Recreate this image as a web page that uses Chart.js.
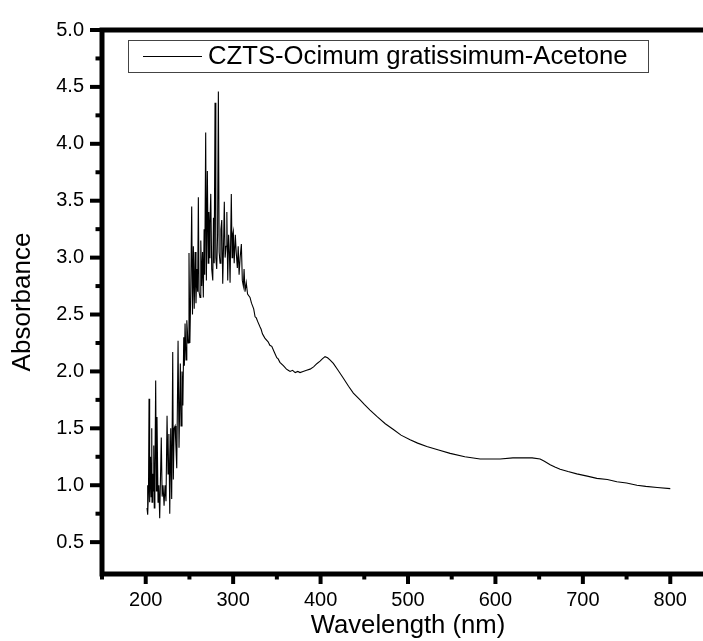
<!DOCTYPE html>
<html>
<head>
<meta charset="utf-8">
<script src="https://cdn.jsdelivr.net/npm/chart.js@4"></script>
<style>
  html, body { margin: 0; padding: 0; background: #fff; overflow: hidden; }
  #wrap { width: 730px; height: 641px; }
</style>
</head>
<body>
<div id="wrap"><canvas id="absChart"></canvas></div>
<script>
// Data ------------------------------------------
const seriesLabel = 'CZTS-Ocimum gratissimum-Acetone';

const wavelength = [
    201.5, 202, 202.5, 203.2, 203.8, 204.5, 205.5, 206.2, 206.9, 207.2, 208, 208.6, 209.2, 209.8, 210.5,
    211.4, 212.2, 212.9, 214.1, 215, 216, 217.8, 218.8, 219.8, 221, 222.1, 223.2, 224.4, 225.5, 226.5,
    227.5, 228.6, 229.7, 230.9, 231.6, 232.5, 233.6, 234.5, 235.5, 237, 238.1, 239.6, 240.4, 241.5, 242.5,
    243.5, 244.2, 245, 246.1, 247, 248.4, 249.5, 250.5, 251.5, 252.6, 253.5, 254.5, 255.5, 256.5, 257.5,
    258.5, 259.4, 260.2, 261, 262.1, 263, 264, 265, 265.9, 266.8, 267.5, 268.6, 269.4, 270.5, 271.5,
    272.2, 272.8, 273.5, 274.4, 275.5, 276.7, 277.5, 278.3, 279.3, 280.2, 281.2, 282.2, 283.1, 284, 285,
    286, 287, 288.1, 289, 289.9, 290.8, 291.9, 292.8, 293.8, 294.8, 295.7, 296.5, 297.9, 298.8, 299.5,
    300.2, 301.2, 302.5, 303.5, 304.8, 305.8, 306.8, 308, 309.4, 310.5, 311.7, 312.5, 313.6, 315, 316.5,
    319.3, 321, 322, 323.5, 325.1, 326.5, 328, 330.8, 332, 333.5, 335, 336.5, 340, 342, 344.2,
    347, 349.9, 351.5, 353.5, 357.4, 361, 363, 365.1, 368, 371, 374, 376.5, 380, 384, 388,
    392, 396, 399.4, 402, 405.1, 408, 411, 414.6, 420, 426.1, 432, 437.5, 445.2, 450, 456.6,
    465, 474, 483.3, 492, 502.4, 511, 521.5, 535, 548.2, 565, 582.5, 595, 605.4, 620, 632,
    642, 651.1, 656, 662.6, 668, 674, 683, 693.1, 705, 716, 728, 738.9, 750, 761.8, 772,
    785, 800
];

const absorbance = [
    0.80, 1.00, 0.74, 0.95, 1.76, 0.85, 1.25, 0.90, 1.50, 0.85, 1.10, 0.95, 1.35, 0.80, 1.05,
    1.92, 0.95, 1.60, 0.85, 1.00, 0.71, 1.42, 0.90, 1.00, 0.82, 1.00, 0.86, 1.61, 1.10, 1.45,
    0.75, 1.50, 0.88, 2.17, 1.05, 1.50, 1.52, 1.35, 1.15, 2.27, 1.33, 2.07, 1.52, 2.00, 1.70,
    2.30, 2.05, 2.42, 2.10, 2.45, 2.25, 3.04, 2.25, 2.70, 3.45, 2.50, 3.10, 2.55, 3.05, 2.60,
    2.90, 2.70, 3.53, 2.70, 2.65, 3.15, 2.75, 3.05, 2.65, 3.25, 2.85, 4.10, 2.80, 3.76, 2.95,
    3.40, 3.00, 3.30, 3.56, 2.90, 2.80, 3.35, 2.95, 4.36, 3.00, 2.90, 3.20, 4.46, 3.05, 2.95,
    3.25, 3.33, 2.77, 3.10, 3.49, 3.00, 3.10, 3.40, 2.80, 3.20, 3.05, 2.78, 3.56, 3.00, 3.20,
    3.23, 2.95, 3.20, 3.05, 2.91, 3.10, 2.85, 3.00, 3.12, 2.80, 2.75, 2.90, 2.70, 2.78, 2.68,
    2.65, 2.60, 2.58, 2.55, 2.48, 2.47, 2.44, 2.39, 2.37, 2.33, 2.31, 2.29, 2.26, 2.23, 2.22,
    2.17, 2.12, 2.11, 2.08, 2.05, 2.02, 2.01, 2.00, 2.01, 1.99, 2.00, 1.99, 2.00, 2.01, 2.02,
    2.04, 2.07, 2.09, 2.11, 2.13, 2.12, 2.10, 2.07, 2.01, 1.94, 1.87, 1.81, 1.75, 1.71, 1.66,
    1.60, 1.54, 1.49, 1.44, 1.40, 1.37, 1.34, 1.31, 1.28, 1.25, 1.23, 1.23, 1.23, 1.24, 1.24,
    1.24, 1.23, 1.21, 1.18, 1.16, 1.14, 1.12, 1.10, 1.08, 1.06, 1.05, 1.03, 1.02, 1.00, 0.99,
    0.98, 0.97
];

// tick values (major + minor); labels only on the majors
const xTicks = [150, 200, 250, 300, 350, 400, 450, 500, 550, 600, 650, 700, 750, 800, 850];
const yTicks = [0.5, 0.75, 1.0, 1.25, 1.5, 1.75, 2.0, 2.25, 2.5, 2.75, 3.0, 3.25, 3.5, 3.75, 4.0, 4.25, 4.5, 4.75, 5.0];

const FONT = '"Liberation Sans", Arial, sans-serif';

function isMajorX(v) { return v % 100 === 0; }
function isMajorY(v) { return Math.abs(v * 2 - Math.round(v * 2)) < 1e-6; }

// Frame, tick marks and boxed legend, Origin style
const originDecor = {
    id: 'originDecor',
    afterDraw(chart) {
        const ctx = chart.ctx;
        const a = chart.chartArea;
        const xs = chart.scales.x, ys = chart.scales.y;
        ctx.save();
        ctx.strokeStyle = '#000';
        ctx.lineWidth = 5;
        ctx.strokeRect(a.left, a.top, a.right - a.left, a.bottom - a.top);

        ctx.lineWidth = 4;
        xs.ticks.forEach(t => {
            const px = xs.getPixelForValue(t.value);
            const len = isMajorX(t.value) ? 10 : 5.5;
            ctx.beginPath();
            ctx.moveTo(px, a.bottom);
            ctx.lineTo(px, a.bottom + len);
            ctx.stroke();
        });
        ys.ticks.forEach(t => {
            const py = ys.getPixelForValue(t.value);
            const len = isMajorY(t.value) ? 12 : 6.5;
            ctx.beginPath();
            ctx.moveTo(a.left, py);
            ctx.lineTo(a.left - len, py);
            ctx.stroke();
        });

        // legend box
        ctx.lineWidth = 1;
        ctx.strokeStyle = '#444';
        ctx.strokeRect(128.5, 40.5, 520, 32);
        ctx.strokeStyle = '#000';
        ctx.beginPath();
        ctx.moveTo(143, 56.5);
        ctx.lineTo(202, 56.5);
        ctx.stroke();
        ctx.fillStyle = '#000';
        ctx.font = '25.7px ' + FONT;
        ctx.textBaseline = 'middle';
        ctx.fillText(chart.data.datasets[0].label, 208, 57);
        ctx.restore();
    }
};

const points = wavelength.map((w, i) => ({x: w, y: absorbance[i]}));

let ctx = document.getElementById('absChart').getContext('2d');
let absChart = new Chart(ctx, {
    type: 'line',
    data: {
        datasets: [{
            label: seriesLabel,
            data: points,
            borderColor: '#000',
            borderWidth: 1.1,
            pointRadius: 0,
            tension: 0
        }]
    },
    options: {
        responsive: true,
        maintainAspectRatio: false,
        animation: false,
        layout: { padding: { top: 23, right: 16, left: 0, bottom: 0 } },
        plugins: {
            legend: { display: false },
            tooltip: { enabled: false }
        },
        scales: {
            x: {
                type: 'linear',
                min: 150,
                max: 850,
                afterBuildTicks: scale => { scale.ticks = xTicks.map(v => ({value: v})); },
                afterFit: scale => { scale.height = 67; },
                grid: { display: false, drawTicks: false },
                border: { display: false },
                ticks: {
                    color: '#000',
                    padding: 14,
                    maxRotation: 0,
                    autoSkip: false,
                    font: { family: FONT, size: 20 },
                    callback: v => isMajorX(v) && v >= 200 && v <= 800 ? String(v) : ''
                },
                title: {
                    display: true,
                    text: 'Wavelength (nm)',
                    color: '#000',
                    font: { family: FONT, size: 25.7 },
                    padding: { top: 0, bottom: 0 }
                }
            },
            y: {
                min: 0.22,
                max: 5.0,
                afterBuildTicks: scale => { scale.ticks = yTicks.map(v => ({value: v})); },
                afterFit: scale => { scale.width = 102; },
                grid: { display: false, drawTicks: false },
                border: { display: false },
                ticks: {
                    color: '#000',
                    padding: 18,
                    autoSkip: false,
                    font: { family: FONT, size: 20 },
                    callback: v => isMajorY(v) ? v.toFixed(1) : ''
                },
                title: {
                    display: true,
                    text: 'Absorbance',
                    color: '#000',
                    font: { family: FONT, size: 26 },
                    padding: { top: 7, bottom: 0 }
                }
            }
        }
    },
    plugins: [originDecor]
});
</script>
</body>
</html>
